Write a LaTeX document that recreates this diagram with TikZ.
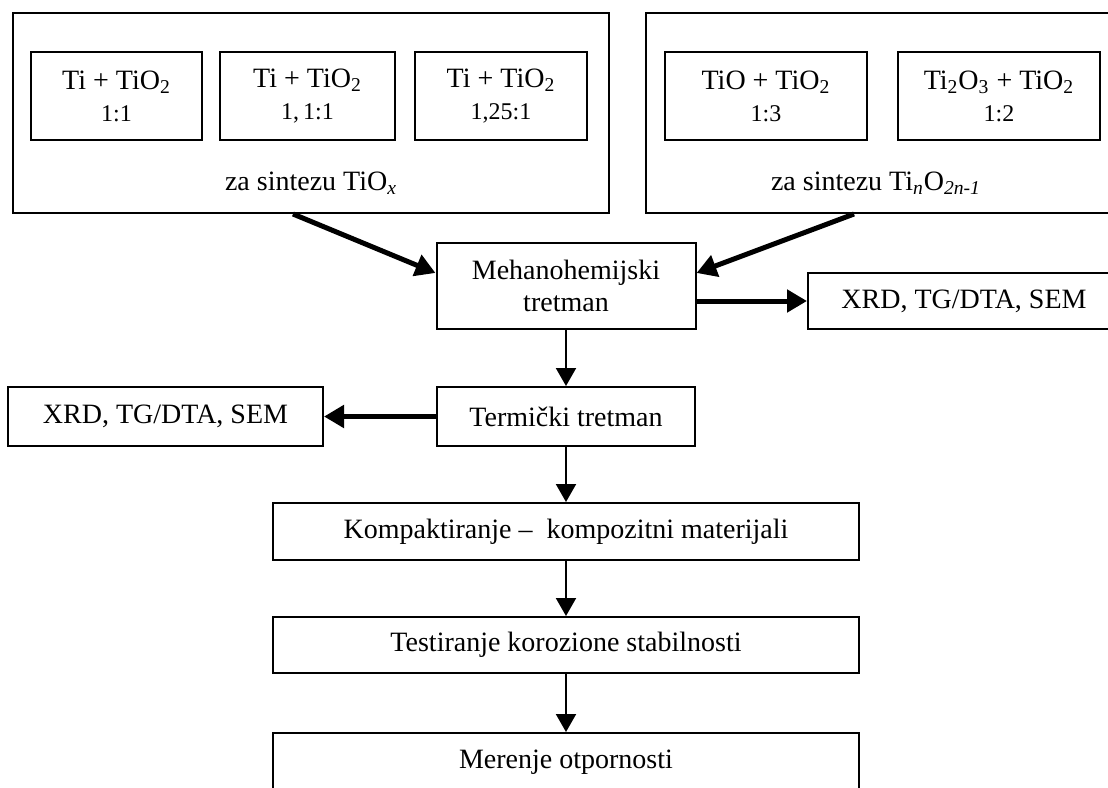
\documentclass[tikz,border=0pt]{standalone}
\usepackage{fontspec}
\setmainfont{Liberation Serif}
\usetikzlibrary{arrows.meta,calc}
\tikzstyle{bx}=[shape=rectangle,draw,line width=1pt,inner sep=0pt,align=center,font=\fontsize{14}{16}\selectfont]
\tikzstyle{sm}=[bx,minimum height=44pt,font=\fontsize{14}{14}\selectfont]
\tikzstyle{lbl}=[font=\fontsize{14}{16}\selectfont]
\tikzstyle{back}=[{Triangle[length=9pt,width=10pt]}-,line width=1pt]
\tikzstyle{fatback}=[{Triangle[length=10pt,width=11pt]}-,line width=2.5pt]
\tikzstyle{fat}=[-{Triangle[length=10pt,width=11pt]},line width=2.5pt]
\newcommand{\rt}[1]{{\fontsize{12}{14}\selectfont #1}}

\begin{document}
\begin{tikzpicture}[x=0.5pt,y=-0.5pt]
        \useasboundingbox (0,0) rectangle (1108,787);
        % polazne smese
        \node[bx,minimum width=298pt,minimum height=100pt] (outL) at (311,113) {};
        \node[bx,minimum width=233pt,minimum height=100pt] (outR) at (879,113) {};
        \node[sm,minimum width=85.5pt] (b1) at (116.5,96) {Ti + TiO\textsubscript{2}\\[2pt]\rt{1:1}};
        \node[sm,minimum width=87.5pt] (b2) at (307.5,96) {Ti + TiO\textsubscript{2}\\[2pt]\rt{1,\,1:1}};
        \node[sm,minimum width=86pt] (b3) at (501,96) {Ti + TiO\textsubscript{2}\\[2pt]\rt{1,25:1}};
        \node[sm,minimum width=101pt] (b4) at (766,96) {TiO + TiO\textsubscript{2}\\[2pt]\rt{1:3}};
        \node[sm,minimum width=101pt] (b5) at (999,96) {Ti\textsubscript{2}O\textsubscript{3} + TiO\textsubscript{2}\\[2pt]\rt{1:2}};
        \node[lbl] (tL) at (311,183) {za sintezu TiO\textsubscript{\textit{x}}};
        \node[lbl] (tR) at (876,183) {za sintezu Ti\textsubscript{\textit{n}}O\textsubscript{\textit{2n-1}}};

        % tok postupka
        \node[bx,minimum width=129.5pt,minimum height=43pt] (mech) at (566,286) {Mehanohemijski\\tretman};
        \node[bx,minimum width=156pt,minimum height=28pt] (xrdR) at (964,301) {XRD, TG/DTA, SEM};
        \node[bx,minimum width=129pt,minimum height=29.5pt] (term) at (566,416.5) {Termički tretman}
            edge[back] (mech)
        ;
        \node[bx,minimum width=157.5pt,minimum height=29.5pt] (xrdL) at (165.5,416.5) {XRD, TG/DTA, SEM}
            edge[fatback] (term)
        ;
        \node[bx,minimum width=293pt,minimum height=28.5pt] (komp) at (566,531.5) {Kompaktiranje -- \ kompozitni materijali}
            edge[back] (term)
        ;
        \node[bx,minimum width=293pt,minimum height=28pt] (test) at (566,645) {Testiranje korozione stabilnosti}
            edge[back] (komp)
        ;
        \node[bx,minimum width=293pt,minimum height=29pt] (mer) at (566,762) {Merenje otpornosti}
            edge[back] (test)
        ;

        \draw[fat] ($(outL.south)+(-18,0)$) -- ($(mech.west)+(0,-13)$);
        \draw[fat] ($(outR.south)+(-25,0)$) -- ($(mech.east)+(0,-13)$);
        \draw[fat] (mech.east |- xrdR) -- (xrdR);
    \end{tikzpicture}
\end{document}
